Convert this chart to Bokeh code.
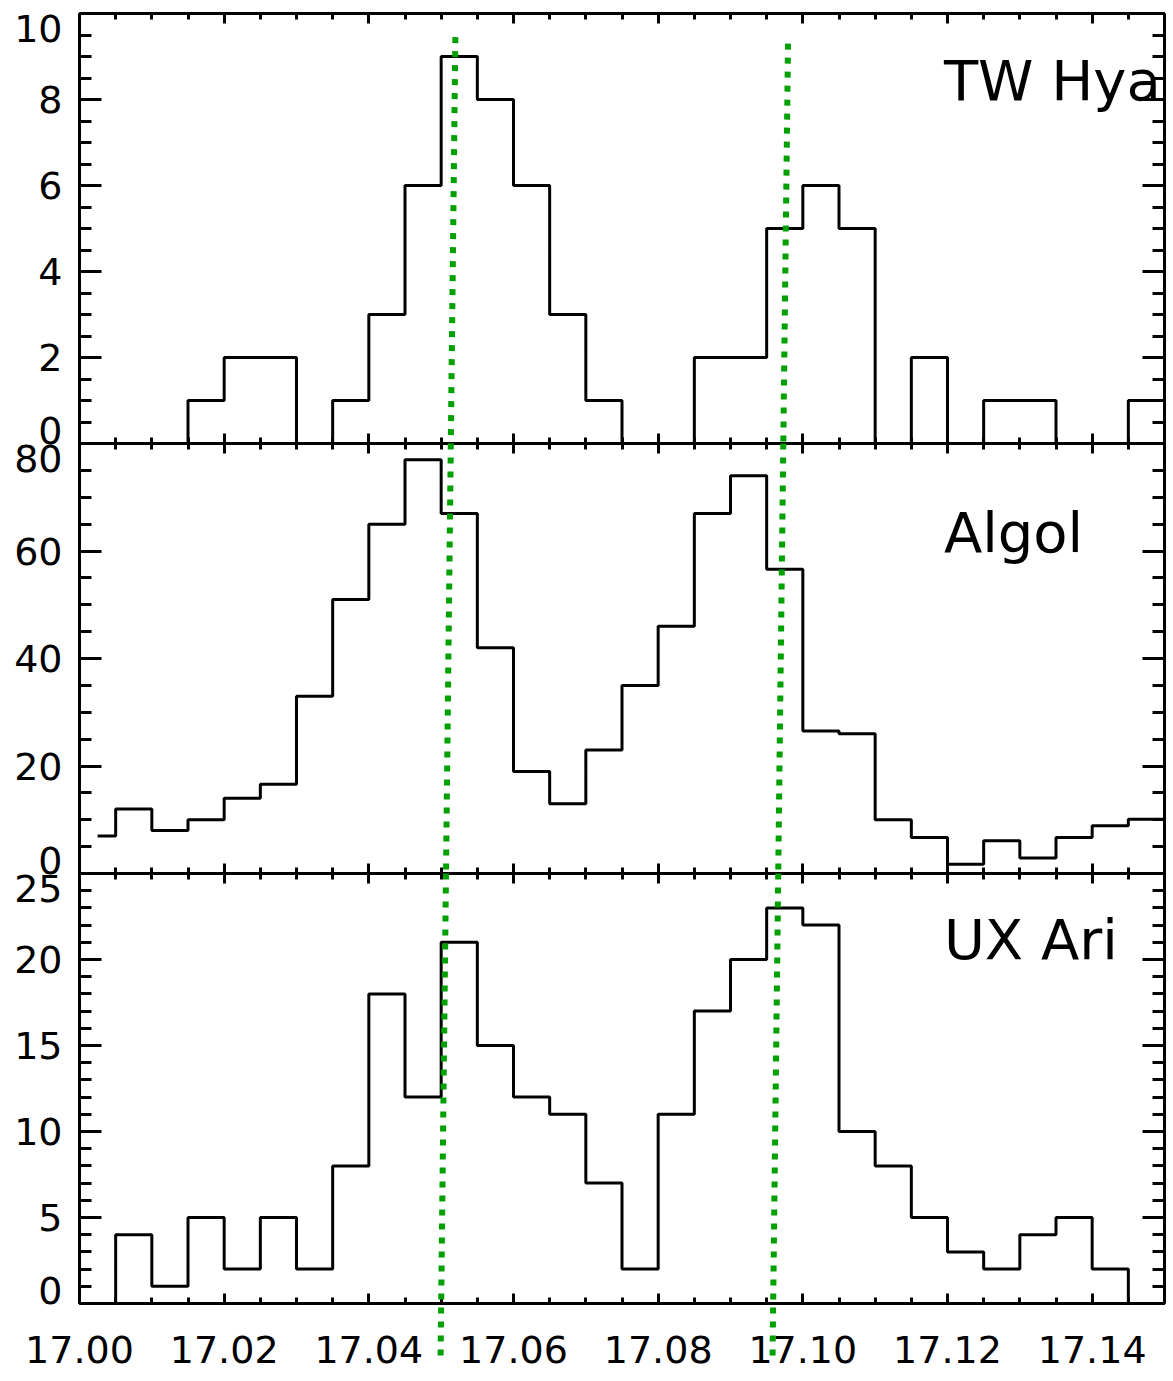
import numpy as np
from bokeh.plotting import figure
from bokeh.models import LinearAxis, FixedTicker, SingleIntervalTicker, Range1d, Label, Arrow
from bokeh.embed import file_html
from bokeh.resources import INLINE
from bokeh.core.properties import value

# ---------------- data ----------------
bin_start = 17.000
bin_width = 0.005
x_min, x_max = 17.00, 17.15

tw_hya = [0, 0, 0, 1, 2, 2, 0, 1, 3, 6, 9, 8, 6, 3, 1, 0, 0, 2, 2, 5, 6, 5, 0, 2, 0, 1, 1, 0, 0, 1]
algol = [7, 12, 8, 10, 14, 16.6, 33, 51, 65, 77, 67, 42, 19, 13, 23, 35, 46, 67, 74, 56.6,
         26.5, 26, 10, 6.7, 1.7, 6.1, 2.9, 6.7, 8.9, 10.1]
ux_ari = [0, 4, 1, 5, 2, 5, 2, 8, 18, 12, 21, 15, 12, 11, 7, 2, 11, 17, 20, 23,
          22, 10, 8, 5, 3, 2, 4, 5, 2, 0]

panel_keys = ["tw", "algol", "ux"]
panel_names = ["TW  Hya", "Algol", "UX  Ari"]
y_max = [10, 80, 25]
y_major_step = [2, 20, 5]
y_minor_count = [4, 4, 5]

x_tick_values = [17.00, 17.02, 17.04, 17.06, 17.08, 17.10, 17.12, 17.14]
x_tick_labels = ["17.00", "17.02", "17.04", "17.06", "17.08", "17.10", "17.12", "17.14"]

# dotted reference lines (slightly slanted): x at top and at bottom of the panel stack
marker_x_top = [17.0520, 17.0980]
marker_x_bottom = [17.0500, 17.0959]
marker_start = [9.45, 9.3]      # TW Hya units where each line begins
marker_tail = 3.3               # UX Ari units below zero where the lines end

# ---------------- layout / style ----------------
FONT = "DejaVu Sans"
TICK_FONT = "38px"
NAME_FONT = "56px"
GREEN = "#00a000"
CANVAS_W, CANVAS_H = 1173, 1381
FRAME_W = 1166
LEFT_PX, RIGHT_PX = 79, 1164
TOP_PX, PANEL_H = 13, 430

name_x = 17.1195
name_y_frac = [0.845, 0.793, 0.8475]     # vertical centre of the panel names (fraction of panel)
end_label_frac_top = 0.035               # centre of top tick label below panel top (fraction)
end_label_frac_bottom = 0.03             # centre of bottom tick label above panel bottom

px_per_x = (RIGHT_PX - LEFT_PX) / (x_max - x_min)
x_range = Range1d(x_min - LEFT_PX / px_per_x, x_min + (FRAME_W - LEFT_PX) / px_per_x)

ranges = {}
for k, key in enumerate(panel_keys):
    Y = y_max[k]
    top = TOP_PX + k * PANEL_H
    bot = top + PANEL_H
    s = PANEL_H / Y
    ranges[key] = Range1d(-(CANVAS_H - bot) / s, Y + top / s)

p = figure(frame_width=FRAME_W, frame_height=CANVAS_H,
           x_range=x_range, y_range=Range1d(ranges["ux"].start, ranges["ux"].end),
           extra_y_ranges=ranges,
           x_axis_location=None, y_axis_location=None,
           toolbar_location=None, output_backend="svg",
           min_border_left=0, min_border_right=CANVAS_W - FRAME_W,
           min_border_top=0, min_border_bottom=0,
           background_fill_color="white", border_fill_color="white",
           outline_line_color=None)
p.grid.visible = False


def step_path(vals):
    edges = bin_start + bin_width * np.arange(len(vals) + 1)
    xs = [bin_start + bin_width / 2]
    ys = [vals[0]]
    for i in range(1, len(vals)):
        xs += [edges[i], edges[i]]
        ys += [vals[i - 1], vals[i]]
    xs.append(edges[-1])
    ys.append(vals[-1])
    return xs, ys


def tick_axis(ticker, key, loc, side, bounds, major_in, minor_in, major_out=0, minor_out=0):
    ax = LinearAxis(ticker=ticker, y_range_name=key, fixed_location=loc, bounds=bounds)
    ax.axis_line_width = 3
    ax.axis_line_color = "black"
    ax.major_tick_line_width = 3
    ax.minor_tick_line_width = 3
    ax.major_tick_in = major_in
    ax.major_tick_out = major_out
    ax.minor_tick_in = minor_in
    ax.minor_tick_out = minor_out
    ax.major_label_text_color = None
    ax.major_label_text_font_size = "0px"
    ax.major_label_standoff = 0
    p.add_layout(ax, side)
    return ax


def label_axis(ticker, key, loc, side, standoff, overrides=None):
    ax = LinearAxis(ticker=ticker, y_range_name=key, fixed_location=loc)
    ax.axis_line_color = None
    ax.major_tick_line_color = None
    ax.minor_tick_line_color = None
    ax.major_tick_in = 0
    ax.major_tick_out = 0
    ax.minor_tick_in = 0
    ax.minor_tick_out = 0
    ax.major_label_text_font = FONT
    ax.major_label_text_font_size = TICK_FONT
    ax.major_label_text_color = "black"
    ax.major_label_standoff = standoff
    if overrides:
        ax.major_label_overrides = overrides
    p.add_layout(ax, side)
    return ax


minor_x = list(bin_start + bin_width * np.arange(31))
n_panels = len(panel_keys)


def marker_x(i, k, v):
    Y = y_max[k]
    s = k + (Y - v) / Y
    return marker_x_top[i] + (marker_x_bottom[i] - marker_x_top[i]) * s / n_panels


for k, (key, vals) in enumerate(zip(panel_keys, [tw_hya, algol, ux_ari])):
    Y = y_max[k]
    last = k == n_panels - 1
    xt = FixedTicker(ticks=x_tick_values, minor_ticks=minor_x)

    # top frame line of the stack
    if k == 0:
        tick_axis(xt, key, Y, "above", (x_min, x_max), 10, 6)
    # bottom line of the panel (ticks up; between panels also ticks down)
    tick_axis(xt, key, 0, "below", (x_min, x_max), 10, 6,
              major_out=0 if last else 10, minor_out=0 if last else 6)
    if last:
        label_axis(xt, key, 0, "below", 32,
                   {v: s for v, s in zip(x_tick_values, x_tick_labels)})

    yt = SingleIntervalTicker(interval=y_major_step[k], num_minor_ticks=y_minor_count[k])
    tick_axis(yt, key, x_min, "left", (0, Y), 22, 12)
    tick_axis(yt, key, x_max, "right", (0, Y), 22, 12)

    inner = list(range(y_major_step[k], Y, y_major_step[k]))
    label_axis(FixedTicker(ticks=inner, minor_ticks=[]), key, x_min, "left", 17)

    # end labels pulled inside the panel
    for txt, yv in [(str(Y), Y * (1 - end_label_frac_top)), ("0", Y * end_label_frac_bottom)]:
        p.add_layout(Label(x=x_min, y=yv, y_range_name=key, x_offset=-17, text=txt,
                           text_align="right", text_baseline="middle",
                           text_font=FONT, text_font_size=TICK_FONT, text_color="black"))

    xs, ys = step_path(vals)
    p.line(xs, ys, line_color="black", line_width=3, y_range_name=key)

    p.text(x=[name_x], y=[Y * name_y_frac[k]], text=[panel_names[k]], text_font=value(FONT),
           text_font_size=NAME_FONT, text_baseline="middle", text_align="left",
           text_color="black", y_range_name=key)

    for i in range(len(marker_x_top)):
        v_top = marker_start[i] if k == 0 else Y
        v_bot = -marker_tail if last else 0
        p.add_layout(Arrow(end=None, x_start=marker_x(i, k, v_top), y_start=v_top,
                           x_end=marker_x(i, k, v_bot), y_end=v_bot, y_range_name=key,
                           line_color=GREEN, line_width=6, line_dash="6 8"))

open("out.html", "w").write(file_html(p, INLINE))
